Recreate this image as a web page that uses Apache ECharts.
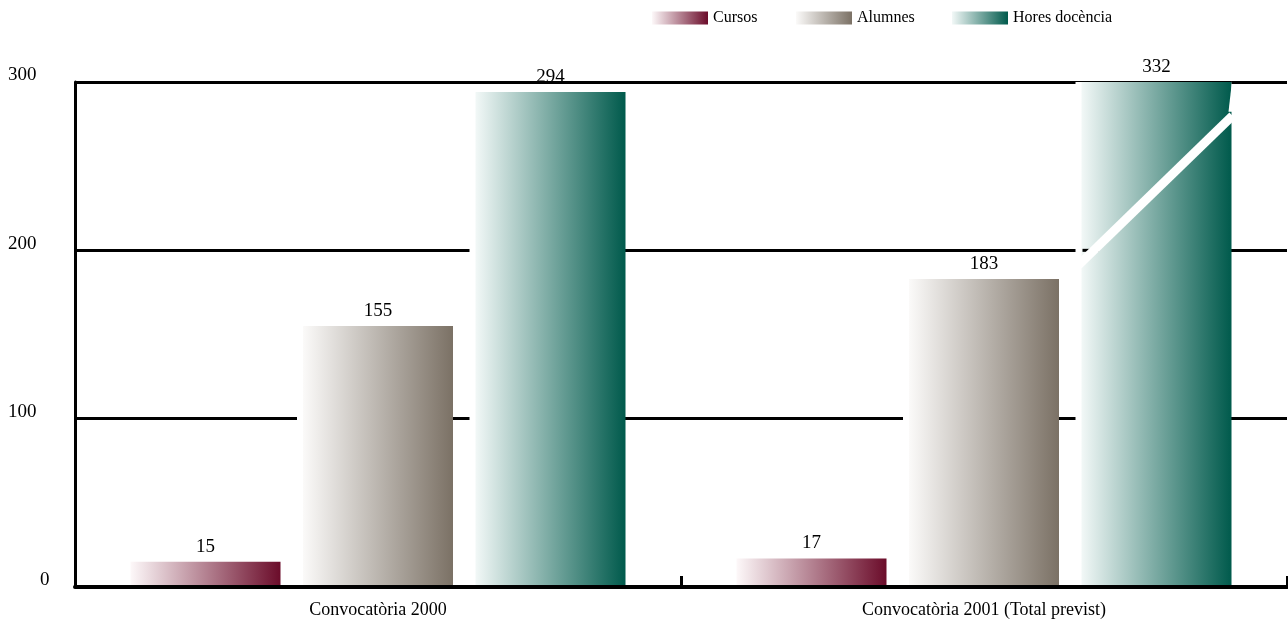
<!DOCTYPE html>
<html><head><meta charset="utf-8">
<script src="https://cdn.jsdelivr.net/npm/echarts@6/dist/echarts.min.js"></script>
<style>html,body{margin:0;padding:0;background:#fff}#c{width:1288px;height:619px}</style>
</head><body><div id="c"></div>
<script>
const categories = ['Convocatòria 2000', 'Convocatòria 2001 (Total previst)'];
const seriesNames = ['Cursos', 'Alumnes', 'Hores docència'];
const cursos = [15, 17];
const alumnes = [155, 183];
const hores = [294, 332];
const yTicks = [0, 100, 200, 300];
const yMax = 300;

const FONT = '"Liberation Serif", "Times New Roman", serif';
function grad(light, dark) {
  return new echarts.graphic.LinearGradient(0, 0, 1, 0, [
    { offset: 0, color: light }, { offset: 1, color: dark }
  ]);
}
const colors = [grad('#fdf8f9', '#6b0c2a'), grad('#fbfaf9', '#7b7165'), grad('#f2f8f7', '#005a4c')];
const values = [cursos, alumnes, hores];

const chart = echarts.init(document.getElementById('c'), null, { renderer: 'canvas' });

const series = seriesNames.map((name, i) => ({
  name: name,
  type: 'bar',
  barWidth: 150,
  barGap: '15%',
  z: 2,
  data: values[i].map(v => ({ value: Math.min(v, yMax), raw: v })),
  itemStyle: { color: colors[i], shadowColor: '#ffffff', shadowBlur: 0, shadowOffsetX: -6, shadowOffsetY: 0 },
  emphasis: { disabled: true },
  label: {
    show: true, position: 'top', distance: 5,
    color: '#000', fontFamily: FONT, fontSize: 19, lineHeight: 20,
    formatter: p => String(p.data.raw)
  }
}));

const legendLefts = [652, 796, 952];
const legends = seriesNames.map((n, i) => ({
  data: [n], left: legendLefts[i], top: 10, orient: 'horizontal', padding: 0,
  icon: 'rect', itemWidth: 56, itemHeight: 13,
  textStyle: { fontFamily: FONT, fontSize: 16, color: '#000', padding: [3, 0, 0, 0] },
  selectedMode: false
}));

chart.setOption({
  animation: false,
  backgroundColor: '#fff',
  legend: legends,
  grid: { left: 75, right: 1, top: 82, bottom: 32, containLabel: false },
  xAxis: {
    type: 'category', data: categories, z: 3,
    axisLine: { show: true, lineStyle: { color: '#000', width: 4 } },
    axisTick: { show: true, inside: true, length: 11, lineStyle: { color: '#000', width: 3 } },
    axisLabel: { color: '#000', fontFamily: FONT, fontSize: 18, margin: 14 },
    splitLine: { show: false }
  },
  yAxis: {
    type: 'value', min: 0, max: yMax, interval: 100,
    axisLine: { show: true, lineStyle: { color: '#000', width: 3 } },
    axisTick: { show: false },
    splitLine: { show: true, lineStyle: { color: '#000', width: 3 } },
    axisLabel: {
      align: 'left', verticalAlign: 'middle', margin: 67, lineHeight: 20, padding: [0, 0, 13, 0],
      color: '#000', fontFamily: FONT, fontSize: 19,
      formatter: v => yTicks.indexOf(v) < 0 ? '' : (v === 0 ? '{z|0}' : String(v)),
      rich: { z: { padding: [0, 0, 0, 32], color: '#000', fontFamily: FONT, fontSize: 19, lineHeight: 20 } }
    }
  },
  series: series
});

// axis break decoration on the clipped bar
(function () {
  const idx = hores.findIndex(v => v > yMax);
  if (idx < 0) return;
  let left, right;
  try {
    const lay = chart.getModel().getSeriesByIndex(2).getData().getItemLayout(idx);
    left = lay.x; right = lay.x + lay.width;
  } catch (e) {
    const c = chart.convertToPixel({ xAxisIndex: 0 }, categories[idx]);
    left = c + 172.5 - 75; right = c + 172.5 + 75;
  }
  const y = v => chart.convertToPixel({ yAxisIndex: 0 }, v);
  const yLow = y(193), yHigh = y(280), yTop = y(yMax), y200 = y(200);
  chart.setOption({
    graphic: [
      { type: 'line', z: 100, shape: { x1: left + 1, y1: y200, x2: left + 17, y2: y200 }, style: { stroke: '#000', lineWidth: 3 } },
      { type: 'line', z: 101, shape: { x1: left - 3, y1: yLow + 3, x2: right + 1, y2: yHigh }, style: { stroke: '#fff', lineWidth: 9 } },
      { type: 'polygon', z: 101, shape: { points: [[right + 0.5, yTop - 1], [right + 0.5, yHigh - 4], [right - 3, yHigh - 4]] }, style: { fill: '#fff' } }
    ]
  });
})();
</script>
</body></html>
